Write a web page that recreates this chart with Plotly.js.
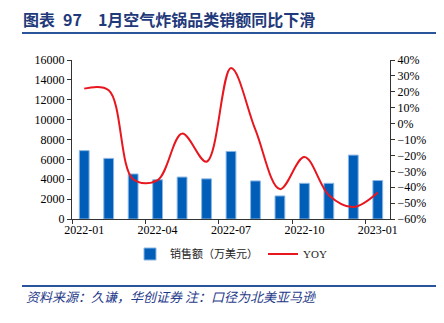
<!DOCTYPE html>
<html>
<head>
<meta charset="utf-8">
<script src="https://cdn.plot.ly/plotly-3.0.1.min.js"></script>
<style>
  html, body { margin: 0; padding: 0; background: #fff; }
  #chart { width: 444px; height: 323px; }
</style>
</head>
<body>
<div id="chart"></div>
<script>
// ---- data ----
const months = ['2022-01','2022-02','2022-03','2022-04','2022-05','2022-06','2022-07',
                '2022-08','2022-09','2022-10','2022-11','2022-12','2023-01'];
const sales = [6880, 6100, 4530, 3950, 4220, 4040, 6800, 3830, 2320, 3590, 3590, 6430, 3870]; // 万美元
const yoy = [0.22, 0.21, -0.35, -0.355, -0.063, -0.24, 0.35, -0.04, -0.412, -0.21, -0.45, -0.525, -0.433];

const titleText = '图表\u200297\u30001月空气炸锅品类销额同比下滑';
const footerText = '资料来源：久谦，华创证券 注：口径为北美亚马逊';
const salesName = '销售额（万美元）';
const yoyName = 'YOY';

// ---- layout geometry ----
const W = 444, H = 323;
const L = 72, R = 390, T = 60, B = 219;
const px = v => (v - L) / (R - L);
const py = v => (B - v) / (B - T);
const FONT = 'Liberation Serif, Noto Sans CJK SC, serif';

const traces = [
  {
    type: 'bar', x: months, y: sales, name: salesName, yaxis: 'y',
    width: 0.4,
    marker: { color: '#005EB8', line: { color: '#8AB6E4', width: 1 } }
  },
  {
    type: 'scatter', mode: 'lines', x: months, y: yoy, name: yoyName, yaxis: 'y2',
    line: { color: '#E8161E', width: 2, shape: 'spline', smoothing: 1 }
  }
];

const axisCommon = {
  showline: true, linecolor: '#333', linewidth: 1,
  ticks: 'outside', ticklen: 4, tickcolor: '#333',
  showgrid: false, zeroline: false, automargin: false,
  tickfont: { family: FONT, size: 12, color: '#000' }
};

const layout = {
  width: W, height: H,
  margin: { l: L, r: W - R, t: T, b: H - B, pad: 0 },
  paper_bgcolor: '#fff', plot_bgcolor: '#fff',
  font: { family: FONT, color: '#000' },
  title: {
    text: '<b>' + titleText + '</b>',
    x: 23 / W, xanchor: 'left', xref: 'container',
    y: 1 - 20 / H, yanchor: 'middle', yref: 'container',
    font: { family: 'Noto Sans CJK SC, sans-serif', size: 16, color: '#1F3A7A' }
  },
  xaxis: Object.assign({}, axisCommon, {
    type: 'category', dtick: 3, tick0: 0, tickson: 'boundaries', tickangle: 0,
    range: [-0.5, 12.5]
  }),
  yaxis: Object.assign({}, axisCommon, {
    range: [0, 16000], dtick: 2000, tickformat: 'd'
  }),
  yaxis2: Object.assign({}, axisCommon, {
    overlaying: 'y', side: 'right', range: [-0.6, 0.4], dtick: 0.1,
    tickformat: '.0%'
  }),
  showlegend: true,
  legend: {
    orientation: 'h', x: 0.5, xanchor: 'center', y: py(254), yanchor: 'middle',
    font: { family: FONT, size: 11, color: '#222' },
    itemwidth: 30, tracegroupgap: 0, bgcolor: 'rgba(0,0,0,0)'
  },
  shapes: [
    { type: 'line', xref: 'paper', yref: 'paper', x0: px(22), x1: px(436), y0: py(33), y1: py(33),
      line: { color: '#2A559B', width: 2 } },
    { type: 'line', xref: 'paper', yref: 'paper', x0: px(22), x1: px(436), y0: py(286), y1: py(286),
      line: { color: '#2A559B', width: 2 } }
  ],
  annotations: [
    { text: footerText, xref: 'paper', yref: 'paper', x: px(24), y: py(296),
      xanchor: 'left', yanchor: 'middle', showarrow: false,
      font: { family: 'Noto Sans CJK SC, sans-serif', size: 13, color: '#1F3A8A', style: 'italic' } }
  ]
};

Plotly.newPlot('chart', traces, layout, { displayModeBar: false, staticPlot: true });
</script>
</body>
</html>
